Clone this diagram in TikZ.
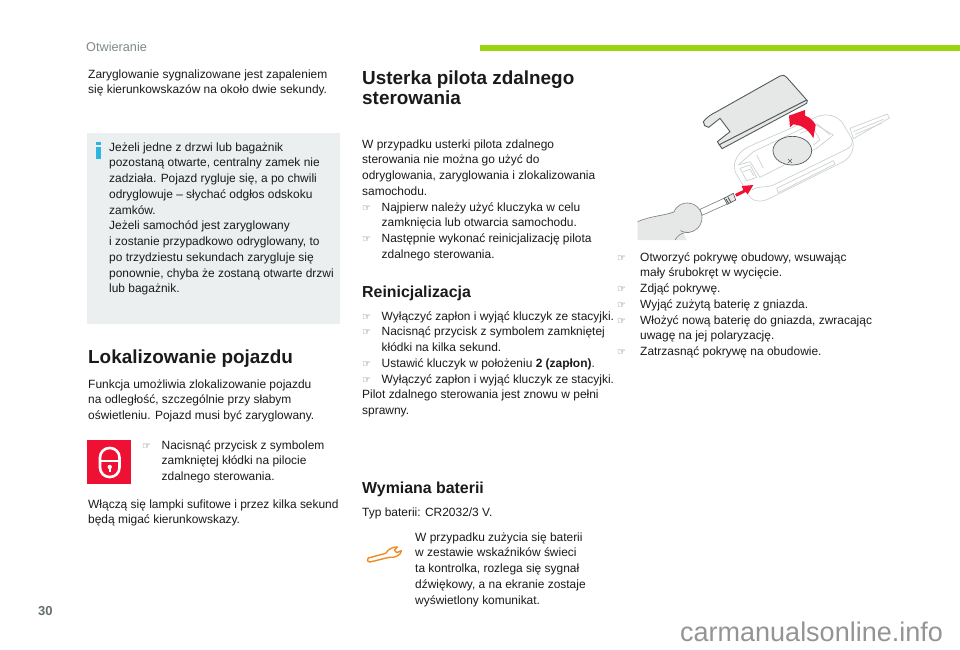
\documentclass[tikz,border=0pt]{standalone}
\usepackage{fontspec}
\setmainfont{Liberation Sans}
\newfontfamily\djv{DejaVu Sans}
\definecolor{ink}{HTML}{1A1A1A}
\definecolor{panel}{HTML}{ECEFEF}
\definecolor{lime}{HTML}{9BD40C}
\definecolor{brandred}{HTML}{EE1133}
\definecolor{cyanmark}{HTML}{2BB5E0}
\definecolor{wrench}{HTML}{F08A24}
\definecolor{keyline}{HTML}{CDD1D1}
\definecolor{lidfill}{HTML}{E6E8E8}
\definecolor{lidline}{HTML}{555A5A}
\definecolor{headgrey}{HTML}{7F8A8A}
\newcommand{\hb}{\makebox[19.5pt][l]{\textcolor{black!65}{\djv\fontsize{10}{10}\selectfont ☞}}}
\newcommand{\hc}{\makebox[19.5pt][l]{}}
\newcommand{\hbb}{\makebox[23pt][l]{\textcolor{black!65}{\djv\fontsize{10}{10}\selectfont ☞}}}
\newcommand{\hcc}{\makebox[23pt][l]{}}
\tikzset{
  txt/.style={anchor=north west,inner sep=0pt,align=left,text=ink,font=\fontsize{11.95}{15.75}\selectfont},
  headbig/.style={anchor=north west,inner sep=0pt,align=left,text=ink,font=\bfseries\fontsize{18.9}{20.5}\selectfont},
  headmid/.style={anchor=north west,inner sep=0pt,align=left,text=ink,font=\bfseries\fontsize{15.9}{17}\selectfont},
  keyl/.style={draw=keyline,line width=0.7pt,line join=round},
  lidl/.style={draw=lidline,line width=0.7pt,line join=round},
}
\begin{document}
\begin{tikzpicture}[x=1pt,y=-1pt]
\path[use as bounding box,fill=white] (0,0) rectangle (960,649);
% header
\fill[lime] (480,44.5) rectangle (960,51);
\node[anchor=west,inner sep=0pt,text=headgrey,font=\fontsize{12.7}{14}\selectfont] (hdr) at (86,46.5) {Otwieranie};
% column 1
\node[txt] (a1) at (88,67) {\strut Zaryglowanie sygnalizowane jest zapaleniem\\się kierunkowskazów na około dwie sekundy.};
\fill[panel] (87,133) rectangle (340,324);
\fill[cyanmark] (95.5,142) rectangle (100.5,145);
\fill[cyanmark] (95.5,147) rectangle (100.5,159);
\node[txt] (a2) at (109,140) {\strut Jeżeli jedne z drzwi lub bagażnik\\pozostaną otwarte, centralny zamek nie\\zadziała. Pojazd rygluje się, a po chwili\\odryglowuje – słychać odgłos odskoku\\zamków.\\Jeżeli samochód jest zaryglowany\\i zostanie przypadkowo odryglowany, to\\po trzydziestu sekundach zarygluje się\\ponownie, chyba że zostaną otwarte drzwi\\lub bagażnik.};
\node[headbig] (h1) at (88,349) {\strut Lokalizowanie pojazdu};
\node[txt] (a3) at (88,377) {\strut Funkcja umożliwia zlokalizowanie pojazdu\\na odległość, szczególnie przy słabym\\oświetleniu. Pojazd musi być zaryglowany.};
\fill[brandred] (87,440) rectangle (131,484);
\draw[white,line width=2.6pt,rounded corners=9.5pt] (100,448) rectangle (119.5,477);
\draw[white,line width=1.5pt] (100,461) -- (119.5,461);
\fill[white] (109.7,467) circle (2.2pt);
\fill[white] (108.7,467) rectangle (110.7,472);
\node[txt] (a4) at (142,438) {\strut\hb Nacisnąć przycisk z symbolem\\\hc zamkniętej kłódki na pilocie\\\hc zdalnego sterowania.};
\node[txt] (a5) at (88,497) {\strut Włączą się lampki sufitowe i przez kilka sekund\\będą migać kierunkowskazy.};
% column 2
\node[headbig] (h2) at (362,69.5) {\strut Usterka pilota zdalnego\\sterowania};
\node[txt] (b1) at (362,137) {\strut W przypadku usterki pilota zdalnego\\sterowania nie można go użyć do\\odryglowania, zaryglowania i zlokalizowania\\samochodu.\\\hb Najpierw należy użyć kluczyka w celu\\\hc zamknięcia lub otwarcia samochodu.\\\hb Następnie wykonać reinicjalizację pilota\\\hc zdalnego sterowania.};
\node[headmid] (h3) at (362,285) {\strut Reinicjalizacja};
\node[txt] (b2) at (362,309) {\strut\hb Wyłączyć zapłon i wyjąć kluczyk ze stacyjki.\\\hb Nacisnąć przycisk z symbolem zamkniętej\\\hc kłódki na kilka sekund.\\\hb Ustawić kluczyk w położeniu \textbf{2 (zapłon)}.\\\hb Wyłączyć zapłon i wyjąć kluczyk ze stacyjki.\\Pilot zdalnego sterowania jest znowu w pełni\\sprawny.};
\node[headmid] (h4) at (362,481) {\strut Wymiana baterii};
\node[txt] (b3) at (362,505) {\strut Typ baterii: CR2032/3 V.};
\node[txt] (b4) at (415,530) {\strut W przypadku zużycia się baterii\\w zestawie wskaźników świeci\\ta kontrolka, rozlega się sygnał\\dźwiękowy, a na ekranie zostaje\\wyświetlony komunikat.};
\begin{scope}[shift={(355,520)},scale=1/3]
\draw[wrench,line width=1.4pt,line join=round] (40,114) -- (92,100) .. controls (100,88) and (112,80) .. (127,81) -- (118,90) -- (125,98) -- (139,92) .. controls (138,105) and (122,114) .. (102,112) -- (45,126) .. controls (36,126) and (35,116) .. (40,114) -- cycle;
\end{scope}
% column 3
\node[txt] (c1) at (617,250) {\strut\hbb Otworzyć pokrywę obudowy, wsuwając\\\hcc mały śrubokręt w wycięcie.\\\hbb Zdjąć pokrywę.\\\hbb Wyjąć zużytą baterię z gniazda.\\\hbb Włożyć nową baterię do gniazda, zwracając\\\hcc uwagę na jej polaryzację.\\\hbb Zatrzasnąć pokrywę na obudowie.};
% illustration
\begin{scope}[shift={(600,90)},scale=1/3]
% key blade
\draw[keyl,fill=white] (750,115) -- (862,72) -- (868,84) -- (760,146) -- cycle;
\draw[keyl] (760,125) -- (850,88);
\draw[keyl] (765,133) -- (845,100);
% key body
\draw[keyl,fill=white] (403,222) .. controls (410,195) and (425,180) .. (450,168) -- (640,85) .. controls (670,70) and (700,70) .. (725,95) -- (755,145) .. controls (767,170) and (755,200) .. (730,215) -- (510,325) .. controls (480,340) and (450,335) .. (440,305) -- (405,245) -- cycle;
\draw[keyl] (415,225) -- (460,185) -- (640,100) -- (700,135) -- (650,175) -- (480,262) -- (450,215) -- (415,225);
\draw[keyl] (455,300) .. controls (480,285) and (500,295) .. (520,285) -- (735,180) .. controls (755,170) and (760,160) .. (755,145);
\draw[keyl] (530,295) -- (700,212) -- (705,222) -- (535,308) -- cycle;
\draw[keyl] (420,235) -- (450,225) -- (470,262) -- (440,272) -- cycle;
\draw[keyl] (430,245) -- (450,238) -- (462,258);
\draw[keyl] (470,195) -- (490,235);
\draw[keyl] (600,130) -- (640,115) -- (660,150) -- (640,165);
\draw[keyl] (650,100) -- (690,135);
% battery
\draw[lidline,line width=0.7pt,fill=lidfill] (577,182) ellipse (58 and 43);
\draw[lidline,line width=0.6pt] (564,207) -- (576,219) (576,207) -- (564,219);
% lid
\draw[lidl,fill=lidfill,line width=0.9pt] (310,95) -- (314,107) -- (326,112) -- (360,85) -- (390,125) -- (352,155) -- (366,176) -- (620,40) -- (622,32) -- (560,-38) .. controls (555,-45) and (548,-46) .. (540,-42) -- (350,65) .. controls (335,72) and (320,82) .. (310,95) -- cycle;
\draw[lidl,line width=1pt] (356,165) -- (620,30);
% big red arrow
\fill[brandred] (615,60) -- (567,77) -- (570,112) -- (580,103) .. controls (610,105) and (630,125) .. (640,145) -- (647,105) .. controls (640,92) and (630,82) .. (615,77) -- cycle;
% hand and screwdriver
\draw[keyline!60!black,fill=white,line width=0.6pt] (300,358) -- (378,322) -- (386,340) -- (306,376) -- cycle;
\draw[black!70,fill=lidfill,line width=0.6pt] (372,325) -- (400,310) -- (407,330) -- (382,343) -- cycle;
\draw[black!70,line width=0.8pt] (378,327) -- (386,340) (384,322) -- (392,336);
\fill[lidfill] (113,395) .. controls (150,378) and (190,378) .. (222,362) -- (260,450) -- (113,450) -- cycle;
\draw[keyline!60!black,fill=lidfill,line width=0.6pt] (262,383) circle (44);
\fill[lidfill] (113,400) rectangle (230,450);
\fill[lidfill] (222,362) -- (250,400) -- (230,450) -- (200,400) -- cycle;
\draw[keyline!60!black,line width=0.6pt] (113,395) .. controls (150,378) and (190,378) .. (225,365);
\draw[keyline!60!black,line width=0.6pt] (225,450) .. controls (235,435) and (245,425) .. (270,428);
% small red arrow
\fill[brandred] (405,312) -- (430,300) -- (425,288) -- (460,285) -- (443,313) -- (437,306) -- (410,320) -- cycle;
\end{scope}
% footer
\node[anchor=west,inner sep=0pt,text=headgrey!80!black,font=\bfseries\fontsize{13}{15}\selectfont] (pg) at (38,611) {30};
\node[anchor=west,inner sep=0pt,text=black!42,font=\fontsize{27}{30}\selectfont] (wm) at (680,632) {carmanualsonline.info};
\end{tikzpicture}
\end{document}
